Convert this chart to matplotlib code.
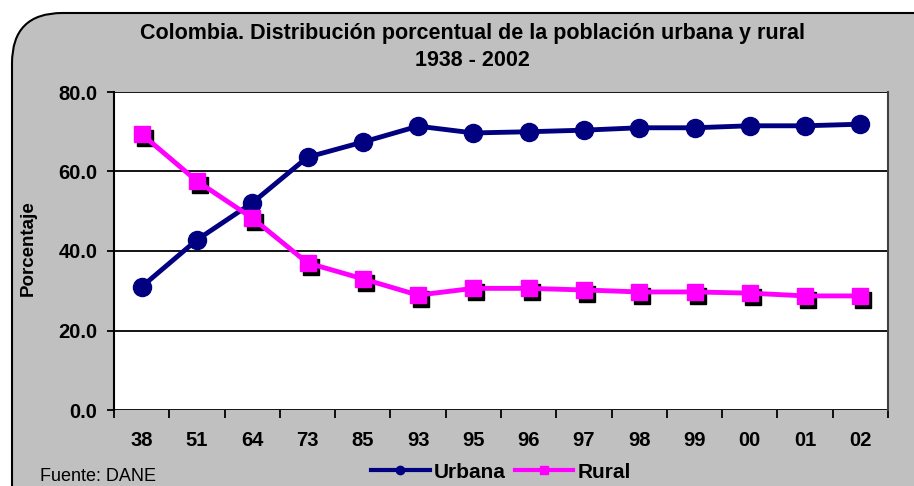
import numpy as np
import matplotlib.pyplot as plt
from matplotlib.patches import FancyBboxPatch
from matplotlib.lines import Line2D
import matplotlib.transforms as mtransforms

plt.rcParams['font.family'] = ['Liberation Sans', 'DejaVu Sans']

# datos
anios = ['38', '51', '64', '73', '85', '93', '95', '96', '97', '98', '99', '00', '01', '02']
urbana = [31.0, 42.8, 52.1, 63.6, 67.4, 71.4, 69.7, 70.0, 70.4, 71.0, 71.0, 71.5, 71.5, 71.9]
rural = [69.4, 57.6, 48.3, 37.0, 33.0, 28.9, 30.6, 30.6, 30.2, 29.7, 29.7, 29.4, 28.7, 28.7]
yticks = [0, 20, 40, 60, 80]

azul = '#000080'
magenta = '#FF00FF'
gris = '#C0C0C0'

fig = plt.figure(figsize=(9.14, 4.86), dpi=100)
fig.patch.set_facecolor('white')

# fondo gris con esquina redondeada
W, H = 914, 486
fondo = FancyBboxPatch((12 / W, -0.2), 1.2, 0.2 + (486 - 13) / H,
                       boxstyle='round,pad=0,rounding_size=0.055',
                       transform=fig.transFigure, facecolor=gris,
                       edgecolor='black', linewidth=1.5, zorder=-5,
                       mutation_aspect=W / H)
fig.patches.append(fondo)

ax = fig.add_axes([114 / W, 76 / H, 774 / W, 318 / H])
ax.set_facecolor('white')

x = np.arange(len(anios))
ax.set_xlim(-0.5, len(anios) - 0.5)
ax.set_ylim(0, 80)

for v in yticks:
    ax.axhline(v, color='black', linewidth=1.3, zorder=1)

ax.plot(x, urbana, color=azul, linewidth=3.5, marker='o', markersize=13,
        markerfacecolor=azul, markeredgecolor=azul, zorder=3, label='Urbana')

# sombra de los cuadrados
sombra = mtransforms.offset_copy(ax.transData, fig=fig, x=3, y=-4, units='dots')
ax.plot(x, rural, linestyle='none', marker='s', markersize=11,
        markerfacecolor='black', markeredgecolor='black', transform=sombra, zorder=2)
ax.plot(x, rural, color=magenta, linewidth=3.5, marker='s', markersize=11,
        markerfacecolor=magenta, markeredgecolor=magenta, zorder=3, label='Rural')

# ejes
ax.set_yticks(yticks)
ax.set_yticklabels([f'{v:.1f}' for v in yticks], fontsize=14.5, fontweight='bold')
ax.set_xticks(np.arange(-0.5, len(anios) + 0.5, 1))
ax.set_xticklabels([])
ax.tick_params(axis='x', direction='out', length=6, width=1.3, color='black')
ax.tick_params(axis='y', direction='out', length=5, width=1.3, color='black', pad=7)
for i, a in enumerate(anios):
    ax.text(i, -7.7, a, ha='center', va='center', fontsize=14.5, fontweight='bold')

for s in ['top', 'bottom']:
    ax.spines[s].set_visible(False)
ax.spines['left'].set_linewidth(1.5)
ax.spines['right'].set_color('#404040')
ax.spines['right'].set_linewidth(1.5)

fig.text(28 / W, 1 - 248 / H, 'Porcentaje', rotation=90, ha='center', va='center',
         fontsize=13.5, fontweight='bold')

fig.text(472 / W, 1 - 33 / H, 'Colombia. Distribución porcentual de la población urbana y rural',
         ha='center', va='center', fontsize=15.5, fontweight='bold')
fig.text(472 / W, 1 - 60 / H, '1938 - 2002', ha='center', va='center',
         fontsize=15.5, fontweight='bold')

fig.text(40 / W, 1 - 476 / H, 'Fuente: DANE', ha='left', va='center', fontsize=13)

handles = [Line2D([], [], color=azul, linewidth=3, marker='o', markersize=6),
           Line2D([], [], color=magenta, linewidth=3, marker='s', markersize=6)]
leg = fig.legend(handles, ['Urbana', 'Rural'], loc='center', bbox_to_anchor=(501 / W, 1 - 472 / H),
                 ncol=2, frameon=False, handlelength=2.8, handletextpad=0.2,
                 columnspacing=0.45, borderpad=0, prop={'weight': 'bold', 'size': 15})

fig.savefig('out.png', dpi=100, facecolor=fig.get_facecolor())
